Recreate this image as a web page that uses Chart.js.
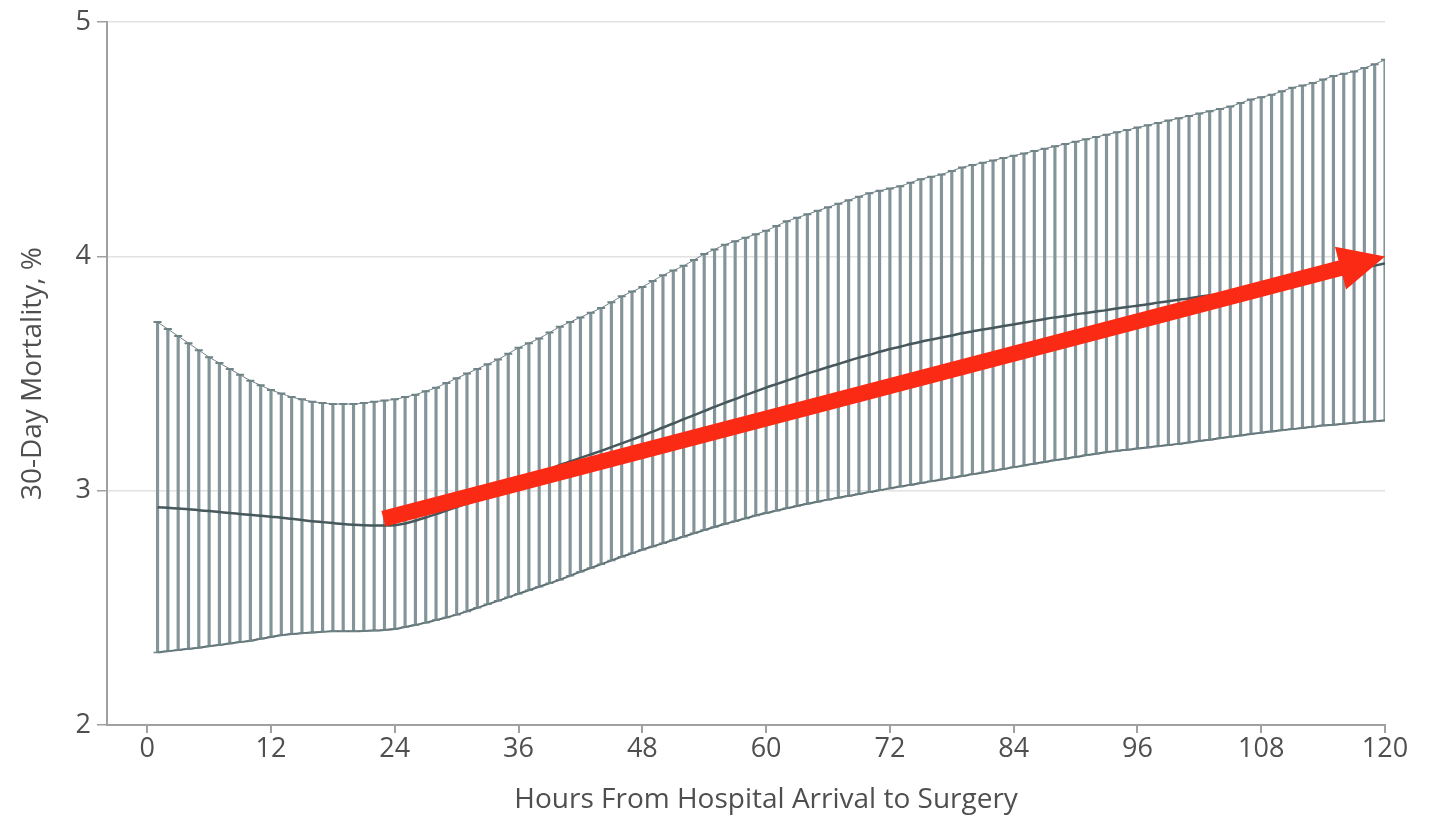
<!DOCTYPE html>
<html>
<head>
<meta charset="utf-8">
<script src="https://cdn.jsdelivr.net/npm/chart.js@4.4.1/dist/chart.umd.min.js"></script>
<style>
  html, body { margin: 0; padding: 0; background: #fff; }
  #wrap { width: 1435px; height: 817px; }
</style>
</head>
<body>
<div id="wrap"><canvas id="mortChart"></canvas></div>
<script>
// 30-day mortality by hour (1..120)
const upperCI = [
  3.72, 3.69, 3.66, 3.63, 3.60, 3.57, 3.545, 3.52, 3.495, 3.47,
  3.45, 3.43, 3.415, 3.40, 3.39, 3.38, 3.375, 3.37, 3.37, 3.37,
  3.375, 3.38, 3.385, 3.39, 3.40, 3.41, 3.425, 3.44, 3.46, 3.48,
  3.50, 3.52, 3.54, 3.56, 3.585, 3.61, 3.63, 3.65, 3.675, 3.70,
  3.72, 3.74, 3.76, 3.78, 3.805, 3.83, 3.85, 3.87, 3.895, 3.92,
  3.94, 3.96, 3.985, 4.01, 4.03, 4.05, 4.065, 4.08, 4.095, 4.11,
  4.13, 4.15, 4.165, 4.18, 4.195, 4.21, 4.225, 4.24, 4.255, 4.27,
  4.28, 4.29, 4.30, 4.315, 4.33, 4.34, 4.35, 4.365, 4.38, 4.39,
  4.40, 4.41, 4.42, 4.43, 4.44, 4.45, 4.46, 4.47, 4.48, 4.49,
  4.50, 4.51, 4.52, 4.53, 4.54, 4.55, 4.56, 4.57, 4.58, 4.59,
  4.60, 4.61, 4.62, 4.63, 4.64, 4.655, 4.67, 4.68, 4.69, 4.705,
  4.72, 4.73, 4.74, 4.755, 4.77, 4.78, 4.79, 4.805, 4.82, 4.84
];
const lowerCI = [
  2.31, 2.315, 2.32, 2.325, 2.33, 2.336, 2.342, 2.348, 2.354, 2.36,
  2.368, 2.376, 2.383, 2.388, 2.392, 2.395, 2.398, 2.40, 2.40, 2.40,
  2.401, 2.403, 2.406, 2.41, 2.418, 2.427, 2.437, 2.448, 2.459, 2.471,
  2.485, 2.50, 2.515, 2.53, 2.545, 2.56, 2.575, 2.59, 2.605, 2.62,
  2.637, 2.654, 2.67, 2.686, 2.702, 2.718, 2.733, 2.748, 2.762, 2.776,
  2.79, 2.804, 2.818, 2.832, 2.845, 2.858, 2.87, 2.882, 2.894, 2.905,
  2.915, 2.925, 2.935, 2.944, 2.953, 2.962, 2.97, 2.978, 2.986, 2.994,
  3.002, 3.01, 3.018, 3.025, 3.033, 3.04, 3.048, 3.055, 3.063, 3.07,
  3.078, 3.085, 3.093, 3.10, 3.108, 3.115, 3.123, 3.13, 3.137, 3.144,
  3.151, 3.158, 3.164, 3.17, 3.175, 3.18, 3.185, 3.19, 3.195, 3.20,
  3.206, 3.212, 3.218, 3.224, 3.23, 3.236, 3.242, 3.248, 3.253, 3.258,
  3.263, 3.268, 3.273, 3.278, 3.282, 3.286, 3.29, 3.294, 3.297, 3.30
];
const estimate = [
  2.930, 2.927, 2.924, 2.921, 2.917, 2.913, 2.909, 2.905, 2.901, 2.897,
  2.893, 2.889, 2.885, 2.880, 2.875, 2.870, 2.866, 2.862, 2.858, 2.855,
  2.853, 2.852, 2.852, 2.853, 2.860, 2.872, 2.886, 2.900, 2.915, 2.930,
  2.945, 2.960, 2.977, 2.994, 3.012, 3.030, 3.050, 3.070, 3.090, 3.110,
  3.125, 3.140, 3.155, 3.170, 3.186, 3.202, 3.218, 3.235, 3.252, 3.270,
  3.287, 3.305, 3.323, 3.340, 3.358, 3.375, 3.391, 3.408, 3.424, 3.440,
  3.455, 3.470, 3.485, 3.500, 3.514, 3.528, 3.541, 3.555, 3.568, 3.580,
  3.593, 3.605, 3.615, 3.626, 3.636, 3.645, 3.654, 3.663, 3.672, 3.680,
  3.688, 3.695, 3.703, 3.710, 3.718, 3.725, 3.733, 3.740, 3.746, 3.753,
  3.759, 3.765, 3.771, 3.778, 3.784, 3.790, 3.796, 3.803, 3.809, 3.815,
  3.821, 3.828, 3.834, 3.840, 3.847, 3.855, 3.862, 3.870, 3.877, 3.885,
  3.892, 3.900, 3.909, 3.918, 3.926, 3.935, 3.944, 3.952, 3.961, 3.970
];
const hours = upperCI.map((_, i) => i + 1);

const xTicks = [0, 12, 24, 36, 48, 60, 72, 84, 96, 108, 120];
const yTicks = [2, 3, 4, 5];
const xTitle = 'Hours From Hospital Arrival to Surgery';

// red trend arrow (hour, mortality)
const arrowFrom = [22.9, 2.88];
const arrowTo = [120, 4.0];

const FONT = "'Open Sans', 'Noto Sans', sans-serif";
const TXT = '#4f4f4f';

// arrow drawn on top with the chart scales
const arrowPlugin = {
    id: 'arrow',
    afterDatasetsDraw(chart) {
        const { ctx, scales } = chart;
        const x1 = scales.x.getPixelForValue(arrowFrom[0]);
        const y1 = scales.y.getPixelForValue(arrowFrom[1]);
        const x2 = scales.x.getPixelForValue(arrowTo[0]);
        const y2 = scales.y.getPixelForValue(arrowTo[1]);
        const ang = Math.atan2(y2 - y1, x2 - x1);
        const headLen = 46, headHalf = 22;
        const bx = x2 - headLen * Math.cos(ang);
        const by = y2 - headLen * Math.sin(ang);
        ctx.save();
        ctx.strokeStyle = '#fb2a14';
        ctx.fillStyle = '#fb2a14';
        ctx.lineWidth = 16;
        ctx.lineCap = 'butt';
        ctx.beginPath();
        ctx.moveTo(x1, y1);
        ctx.lineTo(bx + 2 * Math.cos(ang), by + 2 * Math.sin(ang));
        ctx.stroke();
        ctx.beginPath();
        ctx.moveTo(x2, y2);
        ctx.lineTo(bx - headHalf * Math.sin(ang), by + headHalf * Math.cos(ang));
        ctx.lineTo(bx + headHalf * Math.sin(ang), by - headHalf * Math.cos(ang));
        ctx.closePath();
        ctx.fill();
        ctx.restore();
    }
};

// x title centred under the 0..120 span, as in the original figure
const xTitlePlugin = {
    id: 'xTitle',
    afterDraw(chart) {
        const { ctx, scales } = chart;
        const cx = (scales.x.getPixelForValue(0) + scales.x.getPixelForValue(120)) / 2;
        ctx.save();
        ctx.fillStyle = TXT;
        ctx.font = "28px " + FONT;
        ctx.textAlign = 'center';
        ctx.textBaseline = 'middle';
        ctx.fillText(xTitle, cx, 800);
        ctx.restore();
    }
};

const ctx = document.getElementById('mortChart').getContext('2d');
const mortChart = new Chart(ctx, {
    data: {
        datasets: [
            {
                type: 'line',
                label: 'estimate',
                data: hours.map((h, i) => ({ x: h, y: estimate[i] })),
                borderColor: '#46585c',
                borderWidth: 2.5,
                pointRadius: 0,
                cubicInterpolationMode: 'monotone',
                order: 0
            },
            {
                type: 'line',
                label: 'upper',
                data: hours.map((h, i) => ({ x: h, y: upperCI[i] })),
                borderColor: '#6f8286',
                borderWidth: 1,
                pointStyle: 'line',
                pointRadius: 4,
                pointBorderWidth: 2,
                pointBorderColor: '#6f8286',
                cubicInterpolationMode: 'monotone',
                order: 1
            },
            {
                type: 'line',
                label: 'lower',
                data: hours.map((h, i) => ({ x: h, y: lowerCI[i] })),
                borderColor: '#5c6f73',
                borderWidth: 2,
                pointStyle: 'line',
                pointRadius: 4,
                pointBorderWidth: 1.5,
                pointBorderColor: '#6f8286',
                cubicInterpolationMode: 'monotone',
                order: 1
            },
            {
                type: 'bar',
                label: 'ci',
                data: hours.map((h, i) => ({ x: h, y: [lowerCI[i], upperCI[i]] })),
                backgroundColor: '#84959a',
                barThickness: 2.5,
                borderWidth: 0,
                order: 2
            }
        ]
    },
    options: {
        responsive: true,
        maintainAspectRatio: false,
        animation: false,
        layout: { padding: { top: 20, right: 50, bottom: 0, left: 0 } },
        plugins: {
            legend: { display: false },
            tooltip: { enabled: false }
        },
        scales: {
            x: {
                type: 'linear',
                min: -3.9,
                max: 120,
                offset: false,
                afterBuildTicks: s => { s.ticks = xTicks.map(v => ({ value: v })); },
                afterFit: s => { s.height = 92; },
                ticks: {
                    color: TXT,
                    font: { family: FONT, size: 27 },
                    padding: 0,
                    maxRotation: 0,
                    autoSkip: false
                },
                grid: {
                    offset: false,
                    drawOnChartArea: false,
                    tickLength: 8,
                    tickColor: '#a0a0a0',
                    lineWidth: 2
                },
                border: { color: '#a0a0a0', width: 2 },
                title: { display: false }
            },
            y: {
                min: 2,
                max: 5,
                afterBuildTicks: s => { s.ticks = yTicks.map(v => ({ value: v })); },
                afterFit: s => { s.width = 107; },
                ticks: {
                    color: TXT,
                    font: { family: FONT, size: 27 },
                    padding: 6
                },
                grid: {
                    color: '#e2e2e2',
                    lineWidth: 1.5,
                    tickLength: 10,
                    tickColor: '#a0a0a0'
                },
                border: { color: '#a0a0a0', width: 2 },
                title: {
                    display: true,
                    text: '30-Day Mortality, %',
                    color: TXT,
                    font: { family: FONT, size: 28 },
                    padding: { top: 16, bottom: 0 }
                }
            }
        }
    },
    plugins: [arrowPlugin, xTitlePlugin]
});
</script>
</body>
</html>
